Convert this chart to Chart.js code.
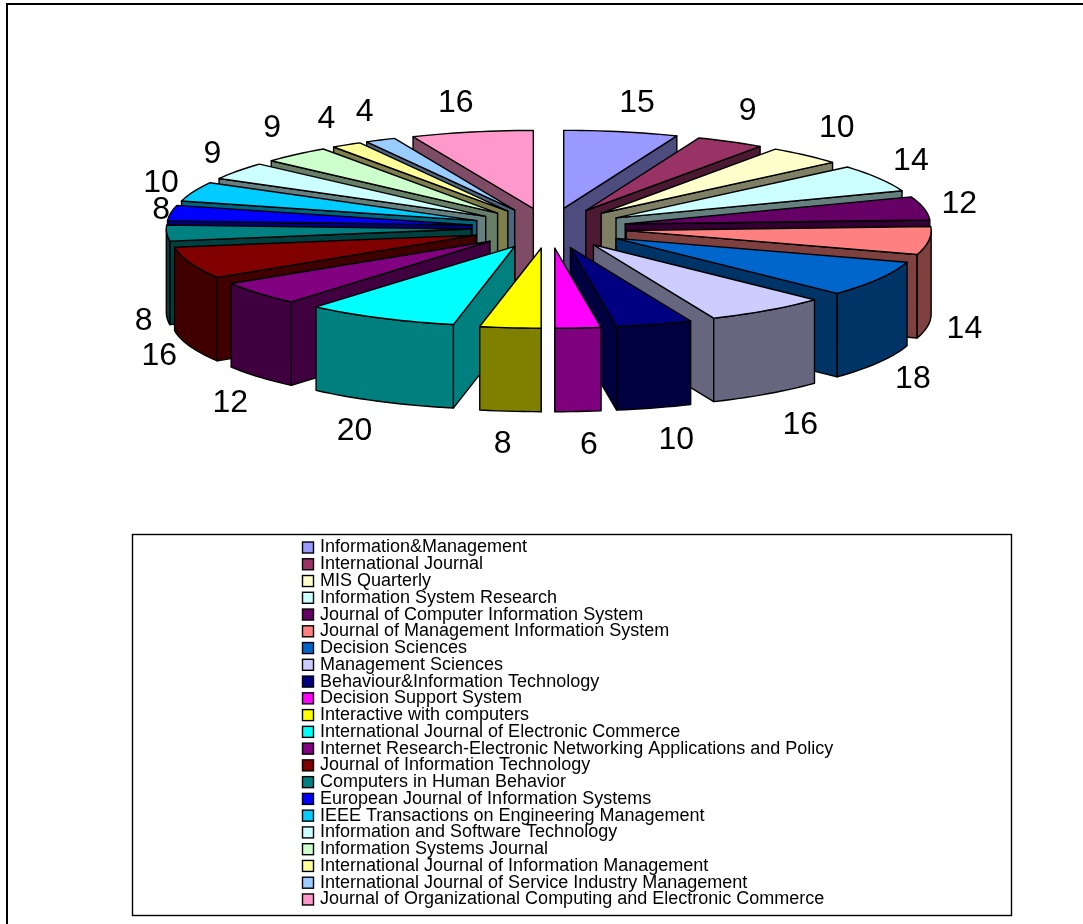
<!DOCTYPE html>
<html>
<head>
<meta charset="utf-8">
<title>Journals</title>
<style>
  html, body { margin: 0; padding: 0; background: #fff; }
  canvas { display: block; }
</style>
<script src="https://cdn.jsdelivr.net/npm/chart.js@4"></script>
</head>
<body>
<canvas id="pie" width="1083" height="924"></canvas>
<script>
const journals = [
  "Information&Management",
  "International Journal",
  "MIS Quarterly",
  "Information System Research",
  "Journal of Computer Information System",
  "Journal of Management Information System",
  "Decision Sciences",
  "Management Sciences",
  "Behaviour&Information Technology",
  "Decision Support System",
  "Interactive with computers",
  "International Journal of Electronic Commerce",
  "Internet Research-Electronic Networking Applications and Policy",
  "Journal of Information Technology",
  "Computers in Human Behavior",
  "European Journal of Information Systems",
  "IEEE Transactions on Engineering Management",
  "Information and Software Technology",
  "Information Systems Journal",
  "International Journal of Information Management",
  "International Journal of Service Industry Management",
  "Journal of Organizational Computing and Electronic Commerce",
];

const articleCounts = [15, 9, 10, 14, 12, 14, 18, 16, 10, 6, 8, 20, 12, 16, 8, 8, 10, 9, 9, 4, 4, 16];

const sliceColors = [
  "#9999ff", "#993366", "#ffffcc", "#ccffff", "#660066", "#ff8080",
  "#0066cc", "#ccccff", "#000080", "#ff00ff", "#ffff00", "#00ffff",
  "#800080", "#800000", "#008080", "#0000ff", "#00ccff", "#ccffff",
  "#ccffcc", "#ffff99", "#99ccff", "#ff99cc",
];

// hand placement of the value labels around the rim
const labelShiftX = [9, 0, 7, 1, 0, 0, 3, 12, 12, 8, -4, -10, -1, 3, 13, 26, 1, 4, 0, -1, 0, -9];
const labelShiftY = [3, -2, -3, -1, 2, 1, 1, 5, 1, 2, 1, 1, 6, -1, 3, 2, 3, 2, -2, 1, 1, 3];

// tilted pie: vertical squash (far and near half), explosion and wall height
const TILT_FAR = 0.256;
const TILT_NEAR = 0.262;
const EXPLODE = 0.255;
const DEPTH = 83.5;
const PIE_TOP_Y = 228;

// halves each channel, used for the walls of a slice
const shade = (hex) => {
  const n = parseInt(hex.slice(1), 16);
  const r = (n >> 16) >> 1;
  const g = ((n >> 8) & 255) >> 1;
  const b = (n & 255) >> 1;
  return `rgb(${r}, ${g}, ${b})`;
};

const tracePolygon = (ctx, points) => {
  ctx.beginPath();
  points.forEach((p, i) => (i ? ctx.lineTo(p.x, p.y) : ctx.moveTo(p.x, p.y)));
  ctx.closePath();
  ctx.fill();
  ctx.stroke();
};

/**
 * Turns an arc element into the screen points of one exploded slice
 */
const sliceGeometry = (arc) => {
  const { x, outerRadius, startAngle, endAngle } = arc.getProps(["x", "outerRadius", "startAngle", "endAngle"], false);
  const mid = (startAngle + endAngle) / 2;
  const project = (angle, r) => {
    const v = Math.sin(mid) * outerRadius * EXPLODE + Math.sin(angle) * r;
    return {
      x: x + Math.cos(mid) * outerRadius * EXPLODE + Math.cos(angle) * r,
      y: PIE_TOP_Y + v * (v > 0 ? TILT_NEAR : TILT_FAR),
    };
  };
  const rim = [];
  const steps = Math.ceil((endAngle - startAngle) / 0.03);
  for (let i = 0; i <= steps; i++) {
    rim.push(project(startAngle + ((endAngle - startAngle) * i) / steps, outerRadius));
  }
  return { tip: project(0, 0), rim, mid, startAngle, endAngle, outerRadius, project };
};

const drop = (p) => ({ x: p.x, y: p.y + DEPTH });

const drawSlice = (ctx, geo, color) => {
  const { tip, rim, mid, project, startAngle, endAngle, outerRadius } = geo;
  ctx.fillStyle = shade(color);

  // the cut face turned toward the viewer
  const edge = Math.cos(mid) > 0 ? rim[rim.length - 1] : rim[0];
  tracePolygon(ctx, [tip, edge, drop(edge), drop(tip)]);

  // outer wall, only the part below the widest line of the pie
  const from = Math.max(startAngle, 0);
  const to = Math.min(endAngle, Math.PI);
  if (to > from) {
    const wall = [];
    const steps = Math.ceil((to - from) / 0.03);
    for (let i = 0; i <= steps; i++) {
      wall.push(project(from + ((to - from) * i) / steps, outerRadius));
    }
    tracePolygon(ctx, wall.concat(wall.map(drop).reverse()));
  }

  ctx.fillStyle = color;
  tracePolygon(ctx, [tip, ...rim]);
};

const pie3d = {
  id: "pie3d",
  beforeDatasetDraw(chart) {
    const ctx = chart.ctx;
    const arcs = chart.getDatasetMeta(0).data;
    const back = -Math.PI / 2;
    // back slices first, so the nearer ones cover them
    const order = arcs
      .map((arc, i) => ({ i, geo: sliceGeometry(arc) }))
      .sort((a, b) => {
        const da = Math.abs(Math.atan2(Math.sin(a.geo.mid - back), Math.cos(a.geo.mid - back)));
        const db = Math.abs(Math.atan2(Math.sin(b.geo.mid - back), Math.cos(b.geo.mid - back)));
        return da - db;
      });
    ctx.save();
    ctx.lineWidth = 1.4;
    ctx.lineJoin = "round";
    ctx.strokeStyle = "#000";
    order.forEach(({ i, geo }) => drawSlice(ctx, geo, sliceColors[i]));
    ctx.restore();

    // value labels just outside each slice
    ctx.save();
    ctx.font = '32px "Liberation Sans"';
    ctx.fillStyle = "#000";
    ctx.textAlign = "center";
    ctx.textBaseline = "middle";
    arcs.forEach((arc, i) => {
      const { mid, outerRadius, project } = sliceGeometry(arc);
      const p = project(mid, outerRadius);
      const below = Math.sin(mid) > 0 ? DEPTH : 0;
      const labelX = p.x + Math.cos(mid) * 36 + labelShiftX[i];
      const labelY = p.y + below + Math.sin(mid) * 32 + labelShiftY[i];
      ctx.fillText(String(articleCounts[i]), labelX, labelY);
    });
    ctx.restore();
    return false;
  },
  afterDraw(chart) {
    const ctx = chart.ctx;
    ctx.save();

    // outer frame, open on the right and at the bottom
    ctx.strokeStyle = "#000";
    ctx.lineWidth = 2;
    ctx.beginPath();
    ctx.moveTo(7, 924);
    ctx.lineTo(7, 4);
    ctx.lineTo(1083, 4);
    ctx.stroke();

    // legend box with one row per journal
    ctx.lineWidth = 1.4;
    ctx.strokeRect(132.5, 534.5, 879, 381);
    ctx.font = '18px "Liberation Sans"';
    ctx.textAlign = "left";
    ctx.textBaseline = "middle";
    chart.data.labels.forEach((label, i) => {
      const rowY = 547.5 + i * 16.76;
      ctx.fillStyle = sliceColors[i];
      ctx.fillRect(302.5, rowY - 5.5, 11, 11);
      ctx.strokeRect(302.5, rowY - 5.5, 11, 11);
      ctx.fillStyle = "#000";
      ctx.fillText(label, 320, rowY);
    });
    ctx.restore();
  },
};

new Chart(document.getElementById("pie"), {
  type: "pie",
  data: {
    labels: journals,
    datasets: [
      {
        data: articleCounts,
        backgroundColor: sliceColors,
        borderWidth: 0,
        radius: 305,
      },
    ],
  },
  options: {
    responsive: false,
    animation: false,
    layout: { padding: { left: 15 } },
    plugins: { legend: { display: false }, tooltip: { enabled: false } },
  },
  plugins: [pie3d],
});
</script>
</body>
</html>
